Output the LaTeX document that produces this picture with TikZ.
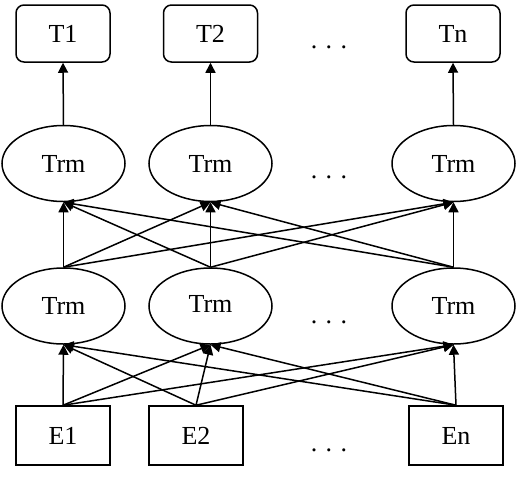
\documentclass[tikz,border=0pt]{standalone}
\usepackage{fontspec}
\setmainfont{Liberation Serif}
\usetikzlibrary{arrows.meta,shapes.geometric}
\newcommand{\mydots}{.\hspace{8.5pt}.\hspace{8.5pt}.}
\begin{document}
\begin{tikzpicture}[x=1pt,y=-1pt,
  every node/.style={font=\fontsize{26}{30}\selectfont, inner sep=0pt},
  outbox/.style={draw, line width=1.5pt, rounded corners=8pt, minimum width=94pt, minimum height=57pt},
  inbox/.style={draw, line width=1.5pt, minimum width=94pt, minimum height=59pt},
  trm/.style={draw, ellipse, line width=1.5pt, minimum width=123pt, minimum height=76pt},
  dots/.style={},
  conn/.style={line width=1.5pt, -{Triangle[length=10pt,width=10pt]}}]
\useasboundingbox (0,0) rectangle (517,485);
% outputs
\node[outbox] (t1) at (63,33.5) {T1};
\node[outbox] (t2) at (210.5,33.5) {T2};
\node[outbox] (tn) at (453,33.5) {Tn};
% top layer
\node[trm] (a1) at (63.5,163.5) {Trm};
\node[trm] (a2) at (210.5,163.5) {Trm};
\node[trm] (a3) at (453.5,163.5) {Trm};
% bottom layer
\node[trm] (b1) at (63.5,306) {\raisebox{-5pt}{Trm}};
\node[trm] (b2) at (210.5,306) {\raisebox{4pt}{Trm}};
\node[trm] (b3) at (453.5,306) {\raisebox{-1pt}{Trm}};
% inputs
\node[inbox] (e1) at (63,435.5) {E1};
\node[inbox] (e2) at (196,435.5) {E2};
\node[inbox] (en) at (456,435.5) {En};
% dots
\node[dots] (d1) at (329,47) {\mydots};
\node[dots] (d2) at (329,177) {\mydots};
\node[dots] (d3) at (329,322) {\mydots};
\node[dots] (d4) at (329,450) {\mydots};
% connectors
\draw[conn] (a1.north) -- (t1.south);
\draw[conn] (a2.north) -- (t2.south);
\draw[conn] (a3.north) -- (tn.south);
\foreach \s in {b1,b2,b3}{
  \foreach \t in {a1,a2,a3}{
    \draw[conn] (\s.north) -- (\t.south);
  }
}
\foreach \s in {e1,e2,en}{
  \foreach \t in {b1,b2,b3}{
    \draw[conn] (\s.north) -- (\t.south);
  }
}
\end{tikzpicture}
\end{document}
